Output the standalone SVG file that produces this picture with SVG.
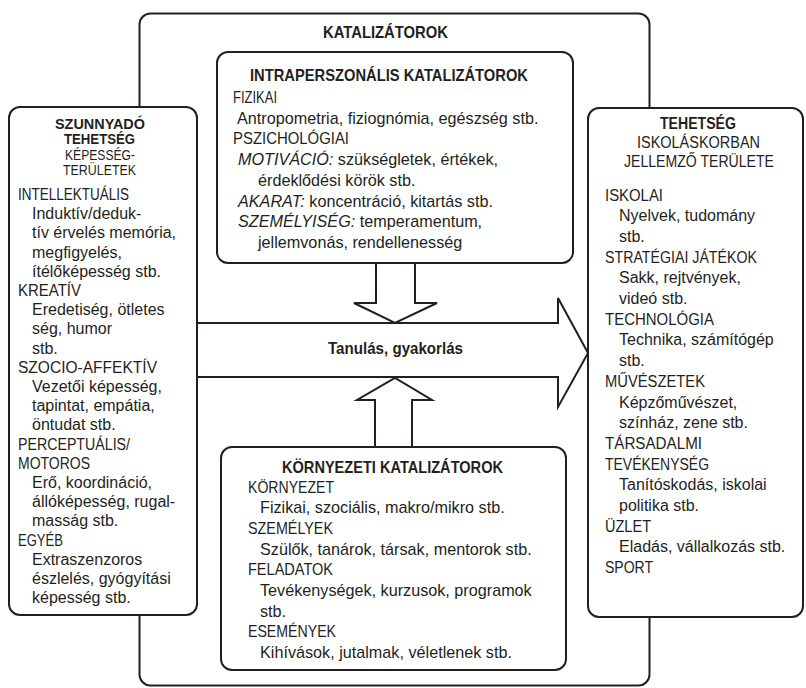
<svg xmlns="http://www.w3.org/2000/svg" width="806" height="688" viewBox="0 0 806 688">
<style>
.box{fill:#fff;stroke:#231f20;stroke-width:2}
.conn{fill:#fff;stroke:#231f20;stroke-width:2;stroke-linejoin:miter}
text{font-family:"Liberation Sans",Arial,sans-serif;fill:#231f20}
.t{font-size:16.2px}
.s{font-size:16px}
.b{font-weight:bold;font-size:16.5px}
.h{font-size:15px}
.i{font-style:italic}
</style>
<rect width="806" height="688" fill="#fff"/>
<g id="katalizatorok">
<rect class="box" x="139.5" y="13.5" width="510" height="672" rx="11"/>
<text class="b" x="323" y="37.5" textLength="125" lengthAdjust="spacingAndGlyphs">KATALIZÁTOROK</text>
</g>
<g id="connectors">
<path class="conn" d="M197,323 H558 V298 L588,353 L558,407 V377 H197"/>
<path class="conn" d="M376,262 V303 H354 L395,323 L437,303 H415 V262"/>
<path class="conn" d="M375,448 V400 H357 L395,378 L432,400 H412 V448"/>
<text class="b" x="328" y="354" textLength="135" lengthAdjust="spacingAndGlyphs">Tanulás, gyakorlás</text>
</g>
<g id="intraperszonalis">
<rect class="box" x="217" y="52" width="356" height="211" rx="11"/>
<text class="b" x="250" y="81" textLength="278" lengthAdjust="spacingAndGlyphs">INTRAPERSZONÁLIS KATALIZÁTOROK</text>
<text class="t"><tspan x="233" y="103" textLength="44" lengthAdjust="spacingAndGlyphs">FIZIKAI</tspan><tspan x="237" y="123.7">Antropometria, fiziognómia, egészség stb.</tspan><tspan x="233" y="144.4" textLength="116" lengthAdjust="spacingAndGlyphs">PSZICHOLÓGIAI</tspan></text>
<text class="t" x="238" y="165.1"><tspan class="i">MOTIVÁCIÓ:</tspan> szükségletek, értékek,</text>
<text class="t" x="258" y="185.8">érdeklődési körök stb.</text>
<text class="t" x="238" y="206.5"><tspan class="i">AKARAT:</tspan> koncentráció, kitartás stb.</text>
<text class="t" x="238" y="227.2"><tspan class="i">SZEMÉLYISÉG:</tspan> temperamentum,</text>
<text class="t" x="258" y="247.9">jellemvonás, rendellenesség</text>
</g>
<g id="kornyezeti">
<rect class="box" x="221" y="447" width="345" height="223" rx="11"/>
<text class="b" x="282" y="472.5" textLength="221" lengthAdjust="spacingAndGlyphs">KÖRNYEZETI KATALIZÁTOROK</text>
<text class="t"><tspan x="248" y="492.5" textLength="86" lengthAdjust="spacingAndGlyphs">KÖRNYEZET</tspan><tspan x="260" y="513.2">Fizikai, szociális, makro/mikro stb.</tspan><tspan x="248" y="533.9" textLength="85" lengthAdjust="spacingAndGlyphs">SZEMÉLYEK</tspan><tspan x="260" y="554.6">Szülők, tanárok, társak, mentorok stb.</tspan><tspan x="248" y="575.3" textLength="85" lengthAdjust="spacingAndGlyphs">FELADATOK</tspan><tspan x="260" y="596">Tevékenységek, kurzusok, programok</tspan><tspan x="260" y="616.7">stb.</tspan><tspan x="248" y="637.4" textLength="88" lengthAdjust="spacingAndGlyphs">ESEMÉNYEK</tspan><tspan x="260" y="658.1">Kihívások, jutalmak, véletlenek stb.</tspan></text>
</g>
<g id="szunnyado">
<rect class="box" x="9" y="107" width="188" height="508" rx="11"/>
<text class="b" style="font-size:15.5px"><tspan x="55" y="128.5" textLength="90" lengthAdjust="spacingAndGlyphs">SZUNNYADÓ</tspan><tspan x="64" y="144" textLength="71" lengthAdjust="spacingAndGlyphs">TEHETSÉG</tspan></text>
<text class="h"><tspan x="65" y="159.5" textLength="70" lengthAdjust="spacingAndGlyphs">KÉPESSÉG-</tspan><tspan x="63" y="175" textLength="73" lengthAdjust="spacingAndGlyphs">TERÜLETEK</tspan></text>
<text class="s"><tspan x="18" y="200" textLength="111" lengthAdjust="spacingAndGlyphs">INTELLEKTUÁLIS</tspan><tspan x="32" y="219.2">Induktív/deduk-</tspan><tspan x="32" y="238.4">tív érvelés memória,</tspan><tspan x="32" y="257.6">megfigyelés,</tspan><tspan x="32" y="276.8">ítélőképesség stb.</tspan><tspan x="18" y="296" textLength="63" lengthAdjust="spacingAndGlyphs">KREATÍV</tspan><tspan x="32" y="315.2">Eredetiség, ötletes</tspan><tspan x="32" y="334.4">ség, humor</tspan><tspan x="32" y="353.6">stb.</tspan><tspan x="18" y="372.8" textLength="139" lengthAdjust="spacingAndGlyphs">SZOCIO-AFFEKTÍV</tspan><tspan x="32" y="392">Vezetői képesség,</tspan><tspan x="32" y="411.2">tapintat, empátia,</tspan><tspan x="32" y="430.4">öntudat stb.</tspan><tspan x="18" y="449.6" textLength="112" lengthAdjust="spacingAndGlyphs">PERCEPTUÁLIS/</tspan><tspan x="18" y="468.8" textLength="72" lengthAdjust="spacingAndGlyphs">MOTOROS</tspan><tspan x="32" y="488">Erő, koordináció,</tspan><tspan x="32" y="507.2">állóképesség, rugal-</tspan><tspan x="32" y="526.4">masság stb.</tspan><tspan x="18" y="545.6" textLength="45" lengthAdjust="spacingAndGlyphs">EGYÉB</tspan><tspan x="32" y="564.8">Extraszenzoros</tspan><tspan x="32" y="584">észlelés, gyógyítási</tspan><tspan x="32" y="603.2">képesség stb.</tspan></text>
</g>
<g id="tehetseg">
<rect class="box" x="588" y="108" width="215" height="509" rx="11"/>
<text class="b" x="660" y="129" textLength="76" lengthAdjust="spacingAndGlyphs">TEHETSÉG</text>
<text style="font-size:16px"><tspan x="637" y="148" textLength="123" lengthAdjust="spacingAndGlyphs">ISKOLÁSKORBAN</tspan><tspan x="624" y="166.5" textLength="150" lengthAdjust="spacingAndGlyphs">JELLEMZŐ TERÜLETE</tspan></text>
<text style="font-size:16px"><tspan x="605" y="200.5" textLength="58" lengthAdjust="spacingAndGlyphs">ISKOLAI</tspan><tspan x="619" y="221.2">Nyelvek, tudomány</tspan><tspan x="619" y="241.9">stb.</tspan><tspan x="605" y="262.6" textLength="152" lengthAdjust="spacingAndGlyphs">STRATÉGIAI JÁTÉKOK</tspan><tspan x="619" y="283.3">Sakk, rejtvények,</tspan><tspan x="619" y="304">videó stb.</tspan><tspan x="605" y="324.7" textLength="109" lengthAdjust="spacingAndGlyphs">TECHNOLÓGIA</tspan><tspan x="619" y="345.4">Technika, számítógép</tspan><tspan x="619" y="366.1">stb.</tspan><tspan x="605" y="386.8" textLength="100" lengthAdjust="spacingAndGlyphs">MŰVÉSZETEK</tspan><tspan x="619" y="407.5">Képzőművészet,</tspan><tspan x="619" y="428.2">színház, zene stb.</tspan><tspan x="605" y="448.9" textLength="97" lengthAdjust="spacingAndGlyphs">TÁRSADALMI</tspan><tspan x="605" y="469.6" textLength="104" lengthAdjust="spacingAndGlyphs">TEVÉKENYSÉG</tspan><tspan x="619" y="490.3">Tanítóskodás, iskolai</tspan><tspan x="619" y="511">politika stb.</tspan><tspan x="605" y="531.7" textLength="46" lengthAdjust="spacingAndGlyphs">ÜZLET</tspan><tspan x="619" y="552.4">Eladás, vállalkozás stb.</tspan><tspan x="605" y="573.1" textLength="48" lengthAdjust="spacingAndGlyphs">SPORT</tspan></text>
</g>
</svg>
